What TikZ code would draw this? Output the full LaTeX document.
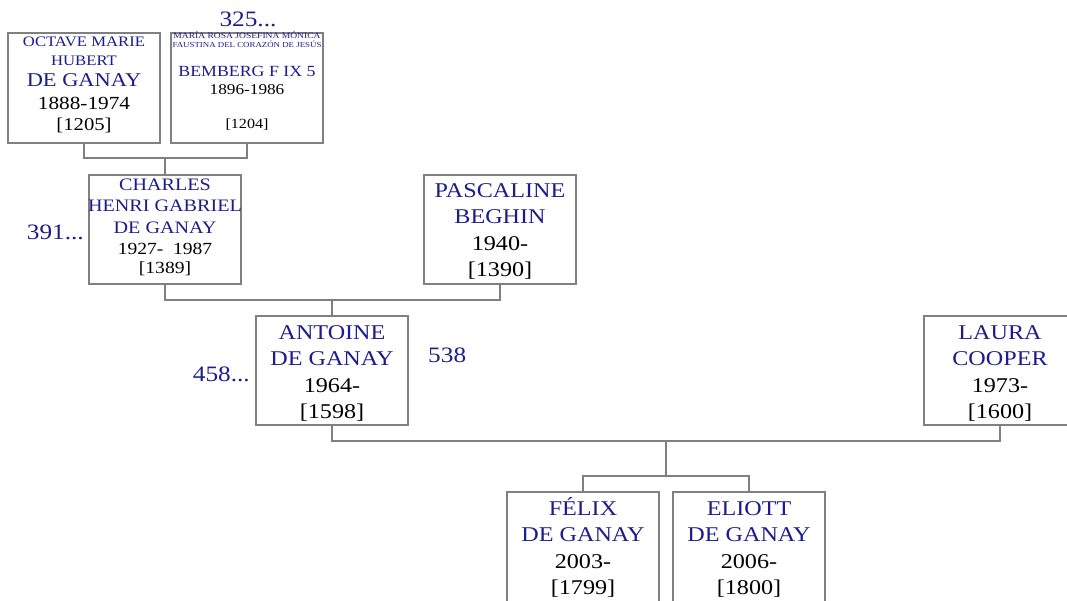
\documentclass[tikz,border=0pt]{standalone}
\usepackage{fontspec}
\setmainfont[FakeStretch=1.15]{Liberation Serif}
\definecolor{nmblue}{RGB}{28,28,140}
\definecolor{lngray}{RGB}{128,128,128}
\tikzset{
  box/.style={draw=lngray, line width=1.2pt, fill=white, minimum width=152pt, inner sep=0pt},
  conn/.style={draw=lngray, line width=1.2pt},
  nm/.style={text=nmblue, anchor=base, inner sep=0pt},
  dt/.style={text=black, anchor=base, inner sep=0pt},
}
\newcommand\fs[1]{\fontsize{#1}{#1}\selectfont}
\begin{document}
\begin{tikzpicture}[x=1pt,y=-1pt]
\useasboundingbox (0,0) rectangle (1067,601);
% boxes
\node[box, minimum height=110pt] (oct) at (84,88) {};
\node[box, minimum height=110pt] (mar) at (247,88) {};
\node[box, minimum height=109pt] (cha) at (165,229.5) {};
\node[box, minimum height=109pt] (pas) at (500,229.5) {};
\node[box, minimum height=109pt] (ant) at (332,370.5) {};
\node[box, minimum height=109pt] (lau) at (1000,370.5) {};
\node[box, minimum height=110pt] (fel) at (583,547) {};
\node[box, minimum height=110pt] (eli) at (749,547) {};
% connectors
\coordinate (m1) at (165,158);
\coordinate (m2) at (332,300);
\coordinate (m3) at (666,441);
\coordinate (m4) at (666,476);
\draw[conn] (oct.south) |- (m1) -| (mar.south);
\draw[conn] (m1) -- (cha.north);
\draw[conn] (cha.south) |- (m2) -| (pas.south);
\draw[conn] (m2) -- (ant.north);
\draw[conn] (ant.south) |- (m3) -| (lau.south);
\draw[conn] (m3) -- (m4);
\draw[conn] (fel.north) |- (m4) -| (eli.north);
% Octave
\node[nm, font=\fs{14.5}] (o1) at (84,46.5) {OCTAVE MARIE};
\node[nm, font=\fs{14.5}] (o2) at (84,66) {HUBERT};
\node[nm, font=\fs{19.5}] (o3) at (84,87) {DE GANAY};
\node[dt, font=\fs{18.5}] (o4) at (84,110) {1888-1974};
\node[dt, font=\fs{18}] (o5) at (84,131) {[1205]};
% Maria
\node[nm, font=\fs{22}] (l325) at (248,27) {325...};
\node[nm, font=\fs{8.3}] (ma1) at (247,39) {MARÍA ROSA JOSEFINA MÓNICA};
\node[nm, font=\fs{7.7}] (ma2) at (247,48) {FAUSTINA DEL CORAZÓN DE JESÚS};
\node[nm, font=\fs{15.5}] (ma3) at (247,77) {BEMBERG F IX 5};
\node[dt, font=\fs{15}] (ma4) at (247,95) {1896-1986};
\node[dt, font=\fs{14}] (ma5) at (247,129) {[1204]};
% Charles
\node[nm, font=\fs{22}, anchor=base east] (l391) at (84,240) {391...};
\node[nm, font=\fs{17.5}] (c1) at (165,191) {CHARLES};
\node[nm, font=\fs{17.5}] (c2) at (165,212) {HENRI GABRIEL};
\node[nm, font=\fs{17.5}] (c3) at (165,234) {DE GANAY};
\node[dt, font=\fs{17}] (c4) at (165,255) {1927-~~1987};
\node[dt, font=\fs{17}] (c5) at (165,274) {[1389]};
% Pascaline
\node[nm, font=\fs{21}] (p1) at (500,198) {PASCALINE};
\node[nm, font=\fs{21}] (p2) at (500,224) {BEGHIN};
\node[dt, font=\fs{21}] (p3) at (500,251) {1940-};
\node[dt, font=\fs{21}] (p4) at (500,277) {[1390]};
% Antoine
\node[nm, font=\fs{22}, anchor=base east] (l458) at (250,381) {458...};
\node[nm, font=\fs{22}, anchor=base west] (l538) at (428,362) {538};
\node[nm, font=\fs{21}] (a1) at (332,339) {ANTOINE};
\node[nm, font=\fs{21}] (a2) at (332,365) {DE GANAY};
\node[dt, font=\fs{21}] (a3) at (332,392) {1964-};
\node[dt, font=\fs{21}] (a4) at (332,418) {[1598]};
% Laura
\node[nm, font=\fs{21}] (la1) at (1000,339) {LAURA};
\node[nm, font=\fs{21}] (la2) at (1000,365) {COOPER};
\node[dt, font=\fs{21}] (la3) at (1000,392) {1973-};
\node[dt, font=\fs{21}] (la4) at (1000,418) {[1600]};
% Felix
\node[nm, font=\fs{21}] (f1) at (583,515) {FÉLIX};
\node[nm, font=\fs{21}] (f2) at (583,541) {DE GANAY};
\node[dt, font=\fs{21}] (f3) at (583,568) {2003-};
\node[dt, font=\fs{21}] (f4) at (583,594) {[1799]};
% Eliott
\node[nm, font=\fs{21}] (e1) at (749,515) {ELIOTT};
\node[nm, font=\fs{21}] (e2) at (749,541) {DE GANAY};
\node[dt, font=\fs{21}] (e3) at (749,568) {2006-};
\node[dt, font=\fs{21}] (e4) at (749,594) {[1800]};
\end{tikzpicture}
\end{document}
